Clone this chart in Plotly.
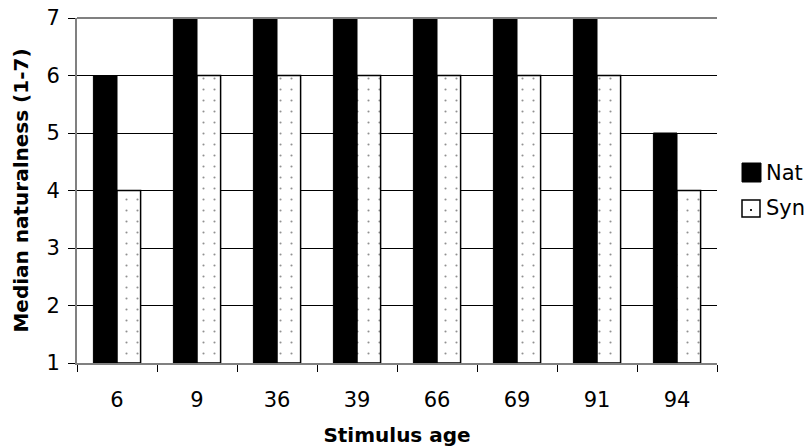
import plotly.graph_objects as go

ages = ["6", "9", "36", "39", "66", "69", "91", "94"]
nat = [6, 7, 7, 7, 7, 7, 7, 5]
syn = [4, 6, 6, 6, 6, 6, 6, 4]
y_ticks = [1, 2, 3, 4, 5, 6, 7]
series_names = ["Nat", "Syn"]

FONT = "DejaVu Sans, Verdana, sans-serif"

# plot area in page pixels (body margin removed below)
L, R, T, B = 77, 717, 18, 363


def px(page_x):
    return (page_x - L) / (R - L)


def py(page_y):
    return (B - page_y) / (B - T)


fig = go.Figure()
fig.add_trace(go.Bar(
    name=series_names[0], x=ages, y=[v - 1 for v in nat], base=1,
    marker=dict(color="black", line=dict(color="black", width=1)),
))
fig.add_trace(go.Bar(
    name=series_names[1], x=ages, y=[v - 1 for v in syn], base=1,
    marker=dict(color="white", line=dict(color="black", width=1.5),
                pattern=dict(shape=".", fgcolor="#222222", bgcolor="white",
                             size=11, solidity=0.03)),
))

shapes = [
    # top edge of plot area (grey)
    dict(type="line", xref="paper", yref="paper", x0=0, x1=1, y0=1, y1=1,
         line=dict(color="#808080", width=2)),
    # legend: Nat
    dict(type="rect", xref="paper", yref="paper",
         x0=px(742), x1=px(761), y0=py(182), y1=py(163),
         fillcolor="black", line=dict(color="black", width=1)),
    # legend: Syn
    dict(type="rect", xref="paper", yref="paper",
         x0=px(742), x1=px(760), y0=py(217), y1=py(200),
         fillcolor="white", line=dict(color="black", width=1.5)),
    dict(type="rect", xref="paper", yref="paper",
         x0=px(750), x1=px(752), y0=py(211), y1=py(209),
         fillcolor="#222222", line=dict(width=0)),
]
annotations = [
    dict(text=series_names[0], xref="paper", yref="paper", x=px(764), y=py(172.5),
         xanchor="left", yanchor="middle", showarrow=False, font=dict(size=21)),
    dict(text=series_names[1], xref="paper", yref="paper", x=px(764), y=py(208.5),
         xanchor="left", yanchor="middle", showarrow=False, font=dict(size=21)),
]

fig.update_layout(
    width=811, height=447,
    margin=dict(l=L, r=811 - R, t=T, b=447 - B, autoexpand=False),
    paper_bgcolor="white", plot_bgcolor="white",
    barmode="group", bargap=0.41, bargroupgap=0,
    font=dict(family=FONT, size=21, color="black"),
    showlegend=False,
    shapes=shapes, annotations=annotations,
    xaxis=dict(
        title=dict(text="<b>Stimulus age</b>", font=dict(size=20), standoff=19),
        showline=True, linecolor="#808080", linewidth=2,
        ticks="outside", tickson="boundaries", ticklen=7, tickcolor="black",
        ticklabelstandoff=17,
        showgrid=False, automargin=False,
    ),
    yaxis=dict(
        title=dict(text="<b>Median naturalness (1-7)</b>", font=dict(size=20), standoff=12),
        range=[1, 7], tickvals=y_ticks,
        showline=True, linecolor="#808080", linewidth=2,
        ticks="outside", ticklen=7, tickcolor="black",
        ticklabelstandoff=4, ticklabeloverflow="allow",
        showgrid=True, gridcolor="black", gridwidth=1,
        zeroline=False, automargin=False,
    ),
)

fig.write_html("out.html", config={"displayModeBar": False},
               post_script="document.body.style.margin='0px';")
